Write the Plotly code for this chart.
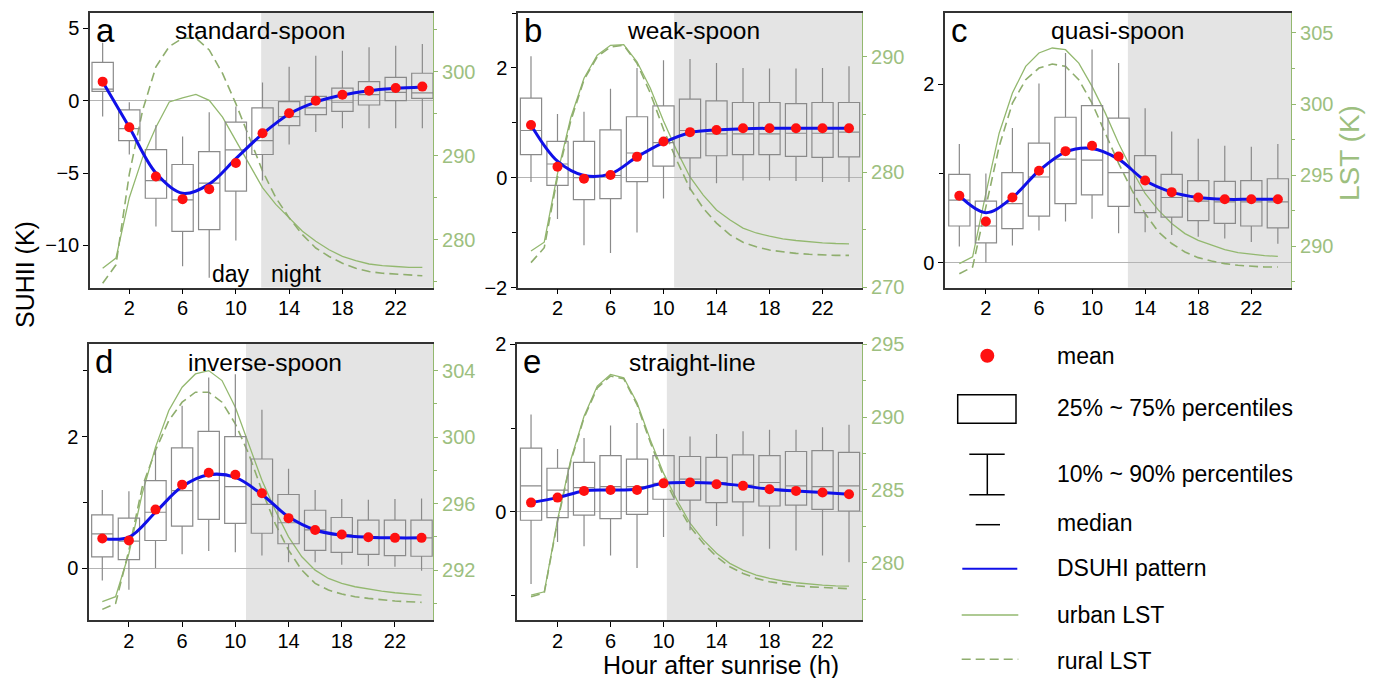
import plotly.graph_objects as go

# The page body adds an 8px margin; the figure is sized/offset so that screen pixels match.
OFF = 8
W, H = 1378 - OFF, 678 - OFF
FONT = "Arial, 'Liberation Sans', sans-serif"
GREEN = "#93b86f"
GREEN_TXT = "#9dbf80"

hours_box = [0, 2, 4, 6, 8, 10, 12, 14, 16, 18, 20, 22, 24]
hours_lst = list(range(25))

# ---------------- panel a : standard-spoon ----------------
a_q10 = [-1.1, -3.72, -8.69, -11.43, -12.23, -9.66, -5.52, -3.03, -2.16, -1.91, -1.91, -1.91, -1.91]
a_q25 = [0.64, -2.76, -6.74, -9.03, -8.9, -6.25, -3.72, -1.72, -0.97, -0.74, -0.3, 0.0, 0.16]
a_med = [0.8, -1.93, -5.52, -6.85, -5.7, -3.4, -2.76, -1.1, -0.5, -0.11, 0.41, 0.57, 0.53]
a_q75 = [2.64, -0.64, -3.38, -4.41, -3.52, -1.49, -0.5, -0.07, 0.3, 0.87, 1.31, 1.61, 1.89]
a_q90 = [4.0, -0.11, -1.68, -2.48, -0.8, -0.41, 1.26, 2.34, 3.1, 3.45, 3.68, 3.79, 3.91]
a_mean = [1.31, -1.84, -5.24, -6.8, -6.11, -4.3, -2.25, -0.87, 0.0, 0.41, 0.69, 0.87, 0.97]
a_fit = [1.31, -1.84, -5.0, -6.4, -5.75, -4.0, -2.3, -0.92, -0.1, 0.39, 0.69, 0.85, 0.95]
a_urban = [276.6, 277.8, 285.0, 289.8, 293.4, 296.4, 296.9, 297.3, 296.6, 294.6, 291.8, 289.0, 286.2,
           284.2, 282.6, 281.0, 279.8, 278.8, 278.0, 277.5, 277.1, 276.9, 276.8, 276.7, 276.7]
a_rural = [274.8, 277.0, 287.8, 295.4, 300.6, 303.0, 304.0, 304.0, 302.6, 299.8, 296.2, 292.2, 288.2,
           285.0, 282.6, 280.6, 279.0, 278.0, 277.2, 276.6, 276.2, 276.0, 275.9, 275.8, 275.7]

# ---------------- panel b : weak-spoon ----------------
b_q10 = [-0.08, -0.75, -1.23, -1.37, -1.0, -0.38, -0.23, -0.1, -0.05, -0.05, -0.06, -0.08, -0.08]
b_q25 = [0.42, -0.14, -0.4, -0.38, -0.07, 0.21, 0.36, 0.4, 0.42, 0.42, 0.39, 0.37, 0.38]
b_med = [0.86, 0.25, 0.0, 0.04, 0.45, 0.64, 0.86, 0.8, 0.8, 0.8, 0.81, 0.81, 0.83]
b_q75 = [1.45, 0.66, 0.66, 0.87, 1.11, 1.31, 1.43, 1.4, 1.37, 1.37, 1.35, 1.37, 1.37]
b_q90 = [2.21, 1.16, 1.2, 1.62, 2.0, 2.14, 2.16, 2.09, 2.0, 1.99, 1.99, 2.0, 2.03]
b_mean = [0.96, 0.2, -0.02, 0.05, 0.38, 0.66, 0.83, 0.87, 0.9, 0.9, 0.9, 0.9, 0.9]
b_fit = [0.96, 0.3, 0.04, 0.07, 0.38, 0.64, 0.82, 0.87, 0.89, 0.9, 0.9, 0.9, 0.9]
b_urban = [273.14, 273.91, 279.86, 284.71, 288.14, 290.14, 291.0, 291.06, 289.57, 287.29, 284.43, 281.86,
           279.57, 278.0, 276.71, 275.86, 275.14, 274.71, 274.43, 274.2, 274.06, 273.94, 273.86, 273.8, 273.77]
b_rural = [272.14, 273.43, 279.57, 284.43, 288.0, 290.0, 290.86, 291.0, 289.43, 286.86, 283.71, 281.0,
           278.57, 276.86, 275.57, 274.57, 273.91, 273.51, 273.23, 273.06, 272.94, 272.86, 272.8, 272.77, 272.77]

# ---------------- panel c : quasi-spoon ----------------
c_q10 = [0.18, 0.0, 0.19, 0.36, 0.46, 0.49, 0.33, 0.34, 0.31, 0.29, 0.27, 0.23, 0.21]
c_q25 = [0.41, 0.22, 0.38, 0.52, 0.66, 0.76, 0.63, 0.56, 0.51, 0.47, 0.44, 0.41, 0.39]
c_med = [0.7, 0.41, 0.66, 0.96, 1.16, 1.15, 1.01, 0.81, 0.73, 0.69, 0.68, 0.68, 0.68]
c_q75 = [0.99, 0.69, 1.01, 1.34, 1.63, 1.76, 1.62, 1.2, 0.99, 0.92, 0.91, 0.92, 0.94]
c_q90 = [1.33, 1.0, 1.51, 2.01, 2.35, 2.39, 2.24, 1.73, 1.47, 1.39, 1.31, 1.3, 1.33]
c_mean = [0.75, 0.46, 0.73, 1.03, 1.25, 1.31, 1.19, 0.92, 0.79, 0.73, 0.71, 0.71, 0.71]
c_fit = [0.75, 0.56, 0.73, 1.03, 1.24, 1.28, 1.16, 0.92, 0.79, 0.73, 0.71, 0.71, 0.71]
c_urban = [288.78, 289.25, 293.71, 297.95, 300.77, 302.65, 303.59, 303.94, 303.82, 302.88, 301.24, 299.36,
           297.24, 295.36, 293.71, 292.54, 291.6, 290.89, 290.42, 290.07, 289.76, 289.55, 289.43, 289.34, 289.29]
c_rural = [288.07, 288.54, 292.77, 297.01, 300.06, 301.71, 302.53, 302.81, 302.65, 301.71, 300.06, 297.95,
           295.83, 293.95, 292.3, 291.01, 290.19, 289.6, 289.2, 288.96, 288.78, 288.66, 288.59, 288.54, 288.54]

# ---------------- panel d : inverse-spoon ----------------
d_q10 = [-0.19, -0.33, 0.0, 0.21, 0.26, 0.24, 0.19, 0.09, 0.09, 0.05, 0.03, 0.02, -0.04]
d_q25 = [0.17, 0.13, 0.42, 0.64, 0.74, 0.68, 0.53, 0.37, 0.27, 0.24, 0.21, 0.19, 0.18]
d_med = [0.52, 0.41, 0.85, 1.18, 1.33, 1.24, 0.97, 0.69, 0.58, 0.51, 0.48, 0.46, 0.46]
d_q75 = [0.81, 0.76, 1.33, 1.83, 2.08, 2.0, 1.66, 1.12, 0.88, 0.77, 0.73, 0.73, 0.73]
d_q90 = [1.19, 1.17, 1.8, 2.47, 2.9, 2.95, 2.41, 1.51, 1.19, 1.05, 1.04, 1.05, 1.06]
d_mean = [0.45, 0.42, 0.89, 1.27, 1.45, 1.42, 1.14, 0.76, 0.58, 0.51, 0.47, 0.46, 0.46]
d_fit = [0.45, 0.47, 0.85, 1.24, 1.42, 1.38, 1.12, 0.78, 0.58, 0.5, 0.47, 0.46, 0.46]
d_urban = [290.1, 290.4, 293.0, 296.6, 299.4, 301.6, 303.0, 303.8, 304.0, 303.4, 301.8, 299.6, 297.4,
           295.6, 294.0, 292.8, 292.0, 291.5, 291.2, 291.0, 290.86, 290.74, 290.64, 290.56, 290.5]
d_rural = [289.64, 290.0, 293.2, 297.0, 299.2, 301.0, 302.1, 302.7, 302.7, 302.1, 300.8, 299.0, 296.8,
           294.8, 293.2, 292.0, 291.2, 290.8, 290.56, 290.4, 290.3, 290.2, 290.14, 290.1, 290.06]

# ---------------- panel e : straight-line ----------------
e_q10 = [-0.86, -0.36, -0.41, -0.52, -0.67, -0.3, -0.22, -0.17, -0.29, -0.44, -0.46, -0.52, -0.6]
e_q25 = [-0.1, -0.07, -0.04, -0.08, -0.03, 0.15, 0.14, 0.11, 0.12, 0.07, 0.08, 0.03, 0.01]
e_med = [0.31, 0.26, 0.29, 0.3, 0.3, 0.34, 0.39, 0.35, 0.32, 0.35, 0.31, 0.3, 0.31]
e_q75 = [0.76, 0.52, 0.59, 0.67, 0.63, 0.67, 0.66, 0.65, 0.68, 0.67, 0.72, 0.73, 0.71]
e_q90 = [1.16, 0.75, 0.88, 1.03, 1.06, 0.99, 0.9, 0.93, 0.96, 0.98, 0.98, 1.01, 1.04]
e_mean = [0.11, 0.17, 0.25, 0.26, 0.26, 0.34, 0.35, 0.33, 0.31, 0.27, 0.25, 0.23, 0.21]
e_fit = [0.11, 0.17, 0.25, 0.26, 0.27, 0.34, 0.35, 0.34, 0.31, 0.27, 0.25, 0.23, 0.21]
e_urban = [277.77, 278.0, 282.94, 287.07, 290.06, 292.13, 292.93, 292.7, 290.98, 288.45, 286.15, 284.32,
           282.71, 281.56, 280.64, 279.95, 279.49, 279.15, 278.92, 278.74, 278.62, 278.53, 278.46, 278.41, 278.39]
e_rural = [277.66, 277.93, 282.82, 286.96, 289.95, 292.01, 292.82, 292.63, 290.86, 288.27, 285.93, 284.04,
           282.48, 281.33, 280.41, 279.72, 279.26, 278.92, 278.69, 278.53, 278.41, 278.34, 278.28, 278.23, 278.21]

panel_letters = ["a", "b", "c", "d", "e"]
panel_titles = ["standard-spoon", "weak-spoon", "quasi-spoon", "inverse-spoon", "straight-line"]
night_start = [11.9, 10.8, 12.7, 10.8, 10.25]

legend_labels = ["mean", "25% ~ 75% percentiles", "10% ~ 90% percentiles", "median",
                 "DSUHI pattern", "urban LST", "rural LST"]

# ---------------- layout geometry (screen pixels) ----------------
panels = [
    dict(q=(a_q10, a_q25, a_med, a_q75, a_q90), mean=a_mean, fit=a_fit, urban=a_urban, rural=a_rural,
         px=(90, 433), py=(13, 287.5), xr=(-0.95, 24.8), yr=(-12.9, 6.05), ydt=5, ymn=None,
         tr=(274.3, 307.0), tdt=10, tmn=5),
    dict(q=(b_q10, b_q25, b_med, b_q75, b_q90), mean=b_mean, fit=b_fit, urban=b_urban, rural=b_rural,
         px=(518, 862), py=(13, 287.5), xr=(-0.98, 24.98), yr=(-2.0, 3.0), ydt=2, ymn=1,
         tr=(269.98, 293.8), tdt=10, tmn=5),
    dict(q=(c_q10, c_q25, c_med, c_q75, c_q90), mean=c_mean, fit=c_fit, urban=c_urban, rural=c_rural,
         px=(945, 1291), py=(13, 287.5), xr=(-1.08, 24.99), yr=(-0.28, 2.8), ydt=2, ymn=1,
         tr=(287.1, 306.4), tdt=5, tmn=2.5),
    dict(q=(d_q10, d_q25, d_med, d_q75, d_q90), mean=d_mean, fit=d_fit, urban=d_urban, rural=d_rural,
         px=(89, 433), py=(344, 620), xr=(-1.0, 24.86), yr=(-0.79, 3.41), ydt=2, ymn=1,
         tr=(289.0, 305.6), tdt=4, tmn=2),
    dict(q=(e_q10, e_q25, e_med, e_q75, e_q90), mean=e_mean, fit=e_fit, urban=e_urban, rural=e_rural,
         px=(517, 862), py=(344, 620), xr=(-1.06, 24.98), yr=(-1.29, 2.002), ydt=2, ymn=1,
         tr=(276.06, 295.02), tdt=5, tmn=2.5),
]


def fx(p):
    return (p - OFF) / W


def fy(p):
    return 1 - (p - OFF) / H


fig = go.Figure()
layout = dict(width=W, height=H, margin=dict(l=0, r=0, t=0, b=0, autoexpand=False),
              paper_bgcolor="white", plot_bgcolor="white", showlegend=False,
              font=dict(family=FONT, size=20, color="black"))
shapes = []
annotations = []

for i, p in enumerate(panels):
    n = i + 1
    xa = "x" if n == 1 else f"x{n}"
    ya_t = "y" if n == 1 else f"y{n}"          # LST axis (main, right side)
    ya_s = f"y{n + 5}"                          # SUHII axis (overlay, left side)
    xkey = "xaxis" if n == 1 else f"xaxis{n}"
    ytkey = "yaxis" if n == 1 else f"yaxis{n}"
    yskey = f"yaxis{n + 5}"

    dom_x = [fx(p["px"][0]), fx(p["px"][1])]
    dom_y = [fy(p["py"][1]), fy(p["py"][0])]

    layout[xkey] = dict(domain=dom_x, range=list(p["xr"]), anchor=ya_t, automargin=False,
                        tickmode="array", tickvals=[2, 6, 10, 14, 18, 22],
                        ticks="outside", ticklen=5, tickcolor="black", tickwidth=1,
                        ticklabelstandoff=-3,
                        showline=True, linecolor="#333333", linewidth=1.5, mirror=True,
                        showgrid=False, zeroline=False,
                        tickfont=dict(size=20, color="black", family=FONT))
    layout[ytkey] = dict(domain=dom_y, range=list(p["tr"]), anchor=xa, side="right", automargin=False,
                         tickmode="linear", dtick=p["tdt"], tick0=0,
                         ticks="outside", ticklen=4, tickcolor=GREEN, tickwidth=1,
                         minor=dict(dtick=p["tmn"], tick0=0, ticks="outside", ticklen=3,
                                    tickcolor=GREEN, showgrid=False),
                         showline=True, linecolor=GREEN, linewidth=1.2,
                         showgrid=False, zeroline=False,
                         tickfont=dict(size=20, color=GREEN_TXT, family=FONT))
    ys = dict(domain=dom_y, range=list(p["yr"]), anchor=xa, overlaying=ya_t, side="left", automargin=False,
              tickmode="linear", dtick=p["ydt"], tick0=0,
              ticks="outside", ticklen=5, tickcolor="black", tickwidth=1,
              showline=True, linecolor="#333333", linewidth=1.5,
              showgrid=False, zeroline=True, zerolinecolor="#b4b4b4", zerolinewidth=1,
              tickfont=dict(size=20, color="black", family=FONT))
    if p["ymn"] is not None:
        ys["minor"] = dict(dtick=p["ymn"], tick0=0, ticks="outside", ticklen=4,
                           tickcolor="black", showgrid=False)
    layout[yskey] = ys

    # night shading
    shapes.append(dict(type="rect", xref=xa, yref=f"{ya_t} domain",
                       x0=night_start[i], x1=p["xr"][1], y0=0, y1=1,
                       fillcolor="#e4e4e4", line=dict(width=0), layer="below"))

    # LST curves (main axis -> drawn underneath)
    fig.add_trace(go.Scatter(x=hours_lst, y=p["urban"], mode="lines", xaxis=xa, yaxis=ya_t,
                             line=dict(color=GREEN, width=1.3), hoverinfo="skip"))
    fig.add_trace(go.Scatter(x=hours_lst, y=p["rural"], mode="lines", xaxis=xa, yaxis=ya_t,
                             line=dict(color="#8fae6e", width=1.6, dash="9px,5px"), hoverinfo="skip"))

    q10, q25, med, q75, q90 = p["q"]
    fig.add_trace(go.Box(x=hours_box, q1=q25, median=med, q3=q75, lowerfence=q10, upperfence=q90,
                         xaxis=xa, yaxis=ya_s, width=1.6, whiskerwidth=0,
                         fillcolor="rgba(0,0,0,0)", line=dict(color="#8a8a8a", width=1.2),
                         boxpoints=False, hoverinfo="skip"))
    fig.add_trace(go.Scatter(x=hours_box, y=p["fit"], mode="lines", xaxis=xa, yaxis=ya_s,
                             line=dict(color="#1010e8", width=3, shape="spline", smoothing=1.0),
                             hoverinfo="skip"))
    fig.add_trace(go.Scatter(x=hours_box, y=p["mean"], mode="markers", xaxis=xa, yaxis=ya_s,
                             marker=dict(color="#ff1010", size=10), hoverinfo="skip"))

    # panel letter
    annotations.append(dict(text=panel_letters[i], xref="paper", yref="paper",
                            x=fx(p["px"][0] + 4), y=fy(p["py"][0] - 3), xanchor="left", yanchor="top",
                            showarrow=False, font=dict(size=33, family=FONT, color="black")))

title_pos = [(260, 30), (693, 30), (1117, 30), (265, 362), (692, 362)]
for i, (tx, ty) in enumerate(title_pos):
    annotations.append(dict(text=panel_titles[i], xref="paper", yref="paper", x=fx(tx), y=fy(ty),
                            xanchor="center", yanchor="middle", showarrow=False,
                            font=dict(size=24.5, family=FONT, color="black")))

annotations.append(dict(text="day", xref="paper", yref="paper", x=fx(231), y=fy(274),
                        xanchor="center", yanchor="middle", showarrow=False,
                        font=dict(size=23, family=FONT, color="black")))
annotations.append(dict(text="night", xref="paper", yref="paper", x=fx(296), y=fy(274),
                        xanchor="center", yanchor="middle", showarrow=False,
                        font=dict(size=23, family=FONT, color="black")))

# axis titles
annotations.append(dict(text="SUHII (K)", xref="paper", yref="paper", x=fx(25), y=fy(275),
                        xanchor="center", yanchor="middle", textangle=-90, showarrow=False,
                        font=dict(size=25, family=FONT, color="black")))
annotations.append(dict(text="LST (K)", xref="paper", yref="paper", x=fx(1350), y=fy(153),
                        xanchor="center", yanchor="middle", textangle=-90, showarrow=False,
                        font=dict(size=28, family=FONT, color=GREEN_TXT)))
annotations.append(dict(text="Hour after sunrise (h)", xref="paper", yref="paper", x=fx(721), y=fy(665),
                        xanchor="center", yanchor="middle", showarrow=False,
                        font=dict(size=25, family=FONT, color="black")))

# ---------------- legend (drawn) ----------------
leg_text_y = [355.7, 408.3, 474.3, 522.7, 568.3, 615, 661]
for lbl, ty in zip(legend_labels, leg_text_y):
    annotations.append(dict(text=lbl, xref="paper", yref="paper", x=fx(1055), y=fy(ty),
                            xanchor="left", yanchor="middle", showarrow=False,
                            font=dict(size=23, family=FONT, color="black")))


def pline(x0, y0, x1, y1, color="black", width=1.5, dash="solid"):
    return dict(type="line", xref="paper", yref="paper", x0=fx(x0), y0=fy(y0), x1=fx(x1), y1=fy(y1),
                line=dict(color=color, width=width, dash=dash))


shapes.append(dict(type="circle", xref="paper", yref="paper", x0=fx(980.3), x1=fx(994.3),
                   y0=fy(362.7), y1=fy(348.7), fillcolor="#ff1010", line=dict(width=0)))
shapes.append(dict(type="rect", xref="paper", yref="paper", x0=fx(957.7), x1=fx(1016),
                   y0=fy(423.3), y1=fy(394.7), line=dict(color="black", width=1.5)))
shapes.append(pline(987.3, 454.3, 987.3, 494.7))
shapes.append(pline(969.3, 454.3, 1004.7, 454.3))
shapes.append(pline(969.3, 494.7, 1004.7, 494.7))
shapes.append(pline(975.7, 524.7, 1000, 524.7))
shapes.append(pline(962.3, 568.7, 1017.3, 568.7, color="#1010e8", width=2))
shapes.append(pline(961.7, 615, 1018.3, 615, color=GREEN, width=1.5))
shapes.append(pline(961.7, 659.3, 1018.3, 659.3, color="#8fae6e", width=1.5, dash="9px,5px"))

layout["shapes"] = shapes
layout["annotations"] = annotations
fig.update_layout(**layout)
fig.write_html("out.html")
